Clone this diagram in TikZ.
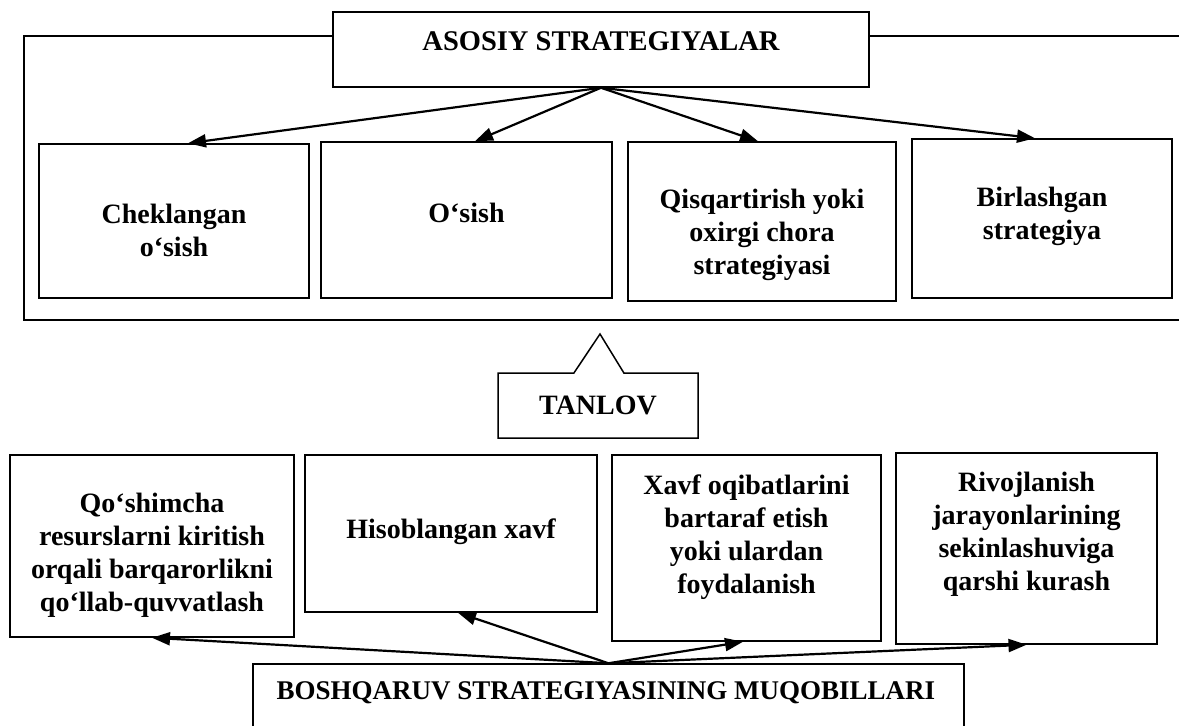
\documentclass[tikz,border=0pt]{standalone}
\usepackage{fontspec}
\setmainfont{Liberation Serif}
\usetikzlibrary{arrows.meta,calc,shapes.callouts}
\begin{document}
\begin{tikzpicture}[x=1pt,y=-1pt,
  box/.style={draw, line width=1.5pt, fill=white, inner sep=0pt, rectangle},
  txt/.style={align=center, inner sep=0pt, font=\bfseries\fontsize{28}{33}\selectfont},
  link/.style={line width=2.2pt, -{Triangle[length=18pt,width=13pt]}}
]
\clip (0,0) rectangle (1179,726);

% outer frame around the main strategies
\draw[line width=1.5pt] (1190,36) -- (24,36) -- (24,320) -- (1190,320);

% heading box
\node[box, minimum width=536pt, minimum height=75pt] (top) at (601,49.5) {};
\node[txt, font=\bfseries\fontsize{28.5}{33}\selectfont] (toptxt) at (601,41) {ASOSIY STRATEGIYALAR};

% main strategies
\node[box, minimum width=270pt, minimum height=154pt] (b1) at (174,221) {};
\node[box, minimum width=291pt, minimum height=156pt] (b2) at (466.5,220) {};
\node[box, minimum width=268pt, minimum height=159pt] (b3) at (762,221.5) {};
\node[box, minimum width=260pt, minimum height=159pt] (b4) at (1042,218.5) {};
\node[txt] (b1t) at (174,230.5) {Cheklangan\\o‘sish};
\node[txt] (b2t) at (466.5,213) {O‘sish};
\node[txt] (b3t) at (762,235) {Qisqartirish yoki\\oxirgi chora\\strategiyasi};
\node[txt] (b4t) at (1042,216.5) {Birlashgan\\strategiya};

\draw[link] (top.south) -- ($(b1.north)+(14,0)$);
\draw[link] (top.south) -- ($(b2.north)+(8.5,0)$);
\draw[link] (top.south) -- ($(b3.north)+(-4,0)$);
\draw[link] (top.south) -- ($(b4.north)+(-7,0)$);

% choice callout
\node[draw, line width=1.5pt, fill=white, rectangle callout,
      minimum width=200pt, minimum height=65pt, inner sep=0pt,
      callout absolute pointer={(600,334)}, callout pointer width=50pt,
      font=\bfseries\fontsize{28}{33}\selectfont] (choice) at (598,405.5) {TANLOV};

% management alternatives
\node[box, minimum width=284pt, minimum height=182pt] (c1) at (152,546) {};
\node[box, minimum width=292pt, minimum height=157pt] (c2) at (451,533.5) {};
\node[box, minimum width=269pt, minimum height=186pt] (c3) at (746.5,548) {};
\node[box, minimum width=261pt, minimum height=191pt] (c4) at (1026.5,548.5) {};
\node[txt] (c1t) at (152,555) {Qo‘shimcha\\resurslarni kiritish\\orqali barqarorlikni\\qo‘llab-quvvatlash};
\node[txt] (c2t) at (451,532) {Hisoblangan xavf};
\node[txt] (c3t) at (746.5,537.5) {Xavf oqibatlarini\\bartaraf etish\\yoki ulardan\\foydalanish};
\node[txt] (c4t) at (1026.5,534.5) {Rivojlanish\\jarayonlarining\\sekinlashuviga\\qarshi kurash};

\node[box, minimum width=711pt, minimum height=96pt] (bot) at (608.5,712) {};
\node[txt, font=\bfseries\fontsize{27}{33}\selectfont] (bottxt) at (606,693) {BOSHQARUV STRATEGIYASINING MUQOBILLARI};

\draw[link] (bot.north) -- (c1.south);
\draw[link] (bot.north) -- ($(c2.south)+(7,0)$);
\draw[link] (bot.north) -- ($(c3.south)+(-3.5,0)$);
\draw[link] (bot.north) -- (c4.south);
\end{tikzpicture}
\end{document}
